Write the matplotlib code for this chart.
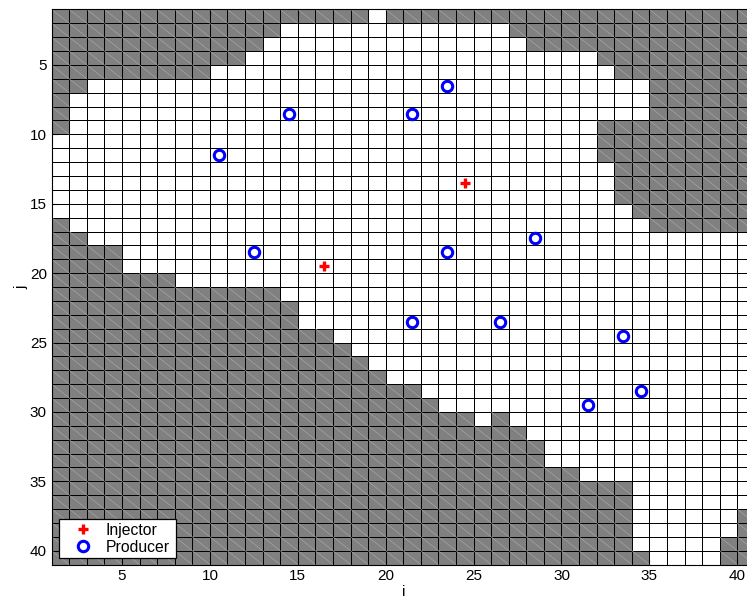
import numpy as np
import matplotlib.pyplot as plt
from matplotlib.collections import LineCollection
from matplotlib.colors import ListedColormap

plt.rcParams['font.family'] = ['Liberation Sans', 'DejaVu Sans']

nx, ny = 40, 40

# inactive cells for each row j = 1..40, as inclusive runs of column i
inactive_runs = [
    [(1, 18), (20, 40)],
    [(1, 13), (27, 40)],
    [(1, 12), (28, 40)],
    [(1, 11), (32, 40)],
    [(1, 9), (33, 40)],
    [(1, 2), (35, 40)],
    [(1, 1), (35, 40)],
    [(1, 1), (35, 40)],
    [(1, 1), (32, 40)],
    [(32, 40)],
    [(32, 40)],
    [(33, 40)],
    [(33, 40)],
    [(33, 40)],
    [(34, 40)],
    [(1, 1), (35, 40)],
    [(1, 2)],
    [(1, 4)],
    [(1, 4)],
    [(1, 7)],
    [(1, 13)],
    [(1, 14)],
    [(1, 14)],
    [(1, 16)],
    [(1, 17)],
    [(1, 18)],
    [(1, 19)],
    [(1, 21)],
    [(1, 22)],
    [(1, 24), (26, 26)],
    [(1, 27)],
    [(1, 28)],
    [(1, 28)],
    [(1, 30)],
    [(1, 33)],
    [(1, 33)],
    [(1, 33), (40, 40)],
    [(1, 33), (40, 40)],
    [(1, 33), (39, 40)],
    [(1, 34), (39, 40)],
]

producer_i = [23.5, 14.5, 21.5, 10.5, 12.5, 23.5, 28.5, 21.5, 26.5, 33.5, 34.5, 31.5]
producer_j = [6.5, 8.5, 8.5, 11.5, 18.5, 18.5, 17.5, 23.5, 23.5, 24.5, 28.5, 29.5]
injector_i = [24.5, 16.5]
injector_j = [13.5, 19.5]

inactive = np.zeros((ny, nx))
for j, runs in enumerate(inactive_runs):
    for a, b in runs:
        inactive[j, a - 1:b] = 1

fig = plt.figure(figsize=(7.47, 6.03), dpi=100)
ax = fig.add_axes([0.0692, 0.0637, 0.9413, 0.9206])

xe = np.arange(1, nx + 2)
ye = np.arange(1, ny + 2)
ax.pcolormesh(xe, ye, inactive, cmap=ListedColormap(['white', '#808080']),
              vmin=0, vmax=1, edgecolors='black', linewidth=0.7)

# diagonal line through every inactive cell
jj, ii = np.nonzero(inactive)
segs = [[(i + 1, j + 1), (i + 2, j + 2)] for j, i in zip(jj, ii)]
ax.add_collection(LineCollection(segs, colors='#adadad', linewidths=0.4, zorder=2))

ax.plot(injector_i, injector_j, '+', color='red', markersize=7, mew=2.4,
        linestyle='none', label='Injector', zorder=4)
ax.plot(producer_i, producer_j, 'o', mfc='none', mec='blue', markersize=7.5,
        mew=2.2, linestyle='none', label='Producer', zorder=4)

ax.set_xlim(1, nx + 1)
ax.set_ylim(ny + 1, 1)
ax.set_xticks(np.arange(5, 41, 5))
ax.set_yticks(np.arange(5, 41, 5))
ax.tick_params(direction='in', length=4, labelsize=11, top=True, right=True)
ax.set_xlabel('i', fontsize=11, labelpad=1)
ax.set_ylabel('j', fontsize=11, labelpad=1)

leg = ax.legend(loc='lower left', bbox_to_anchor=(0.0104, 0.0125, 0.1657, 0.068),
                mode='expand', borderaxespad=0,
                fontsize=11.3, fancybox=False, framealpha=1, edgecolor='black',
                handlelength=2.6, handletextpad=0.15, labelspacing=0.12,
                borderpad=0.2)
leg.get_frame().set_linewidth(0.9)

fig.savefig('out.png', dpi=100)
